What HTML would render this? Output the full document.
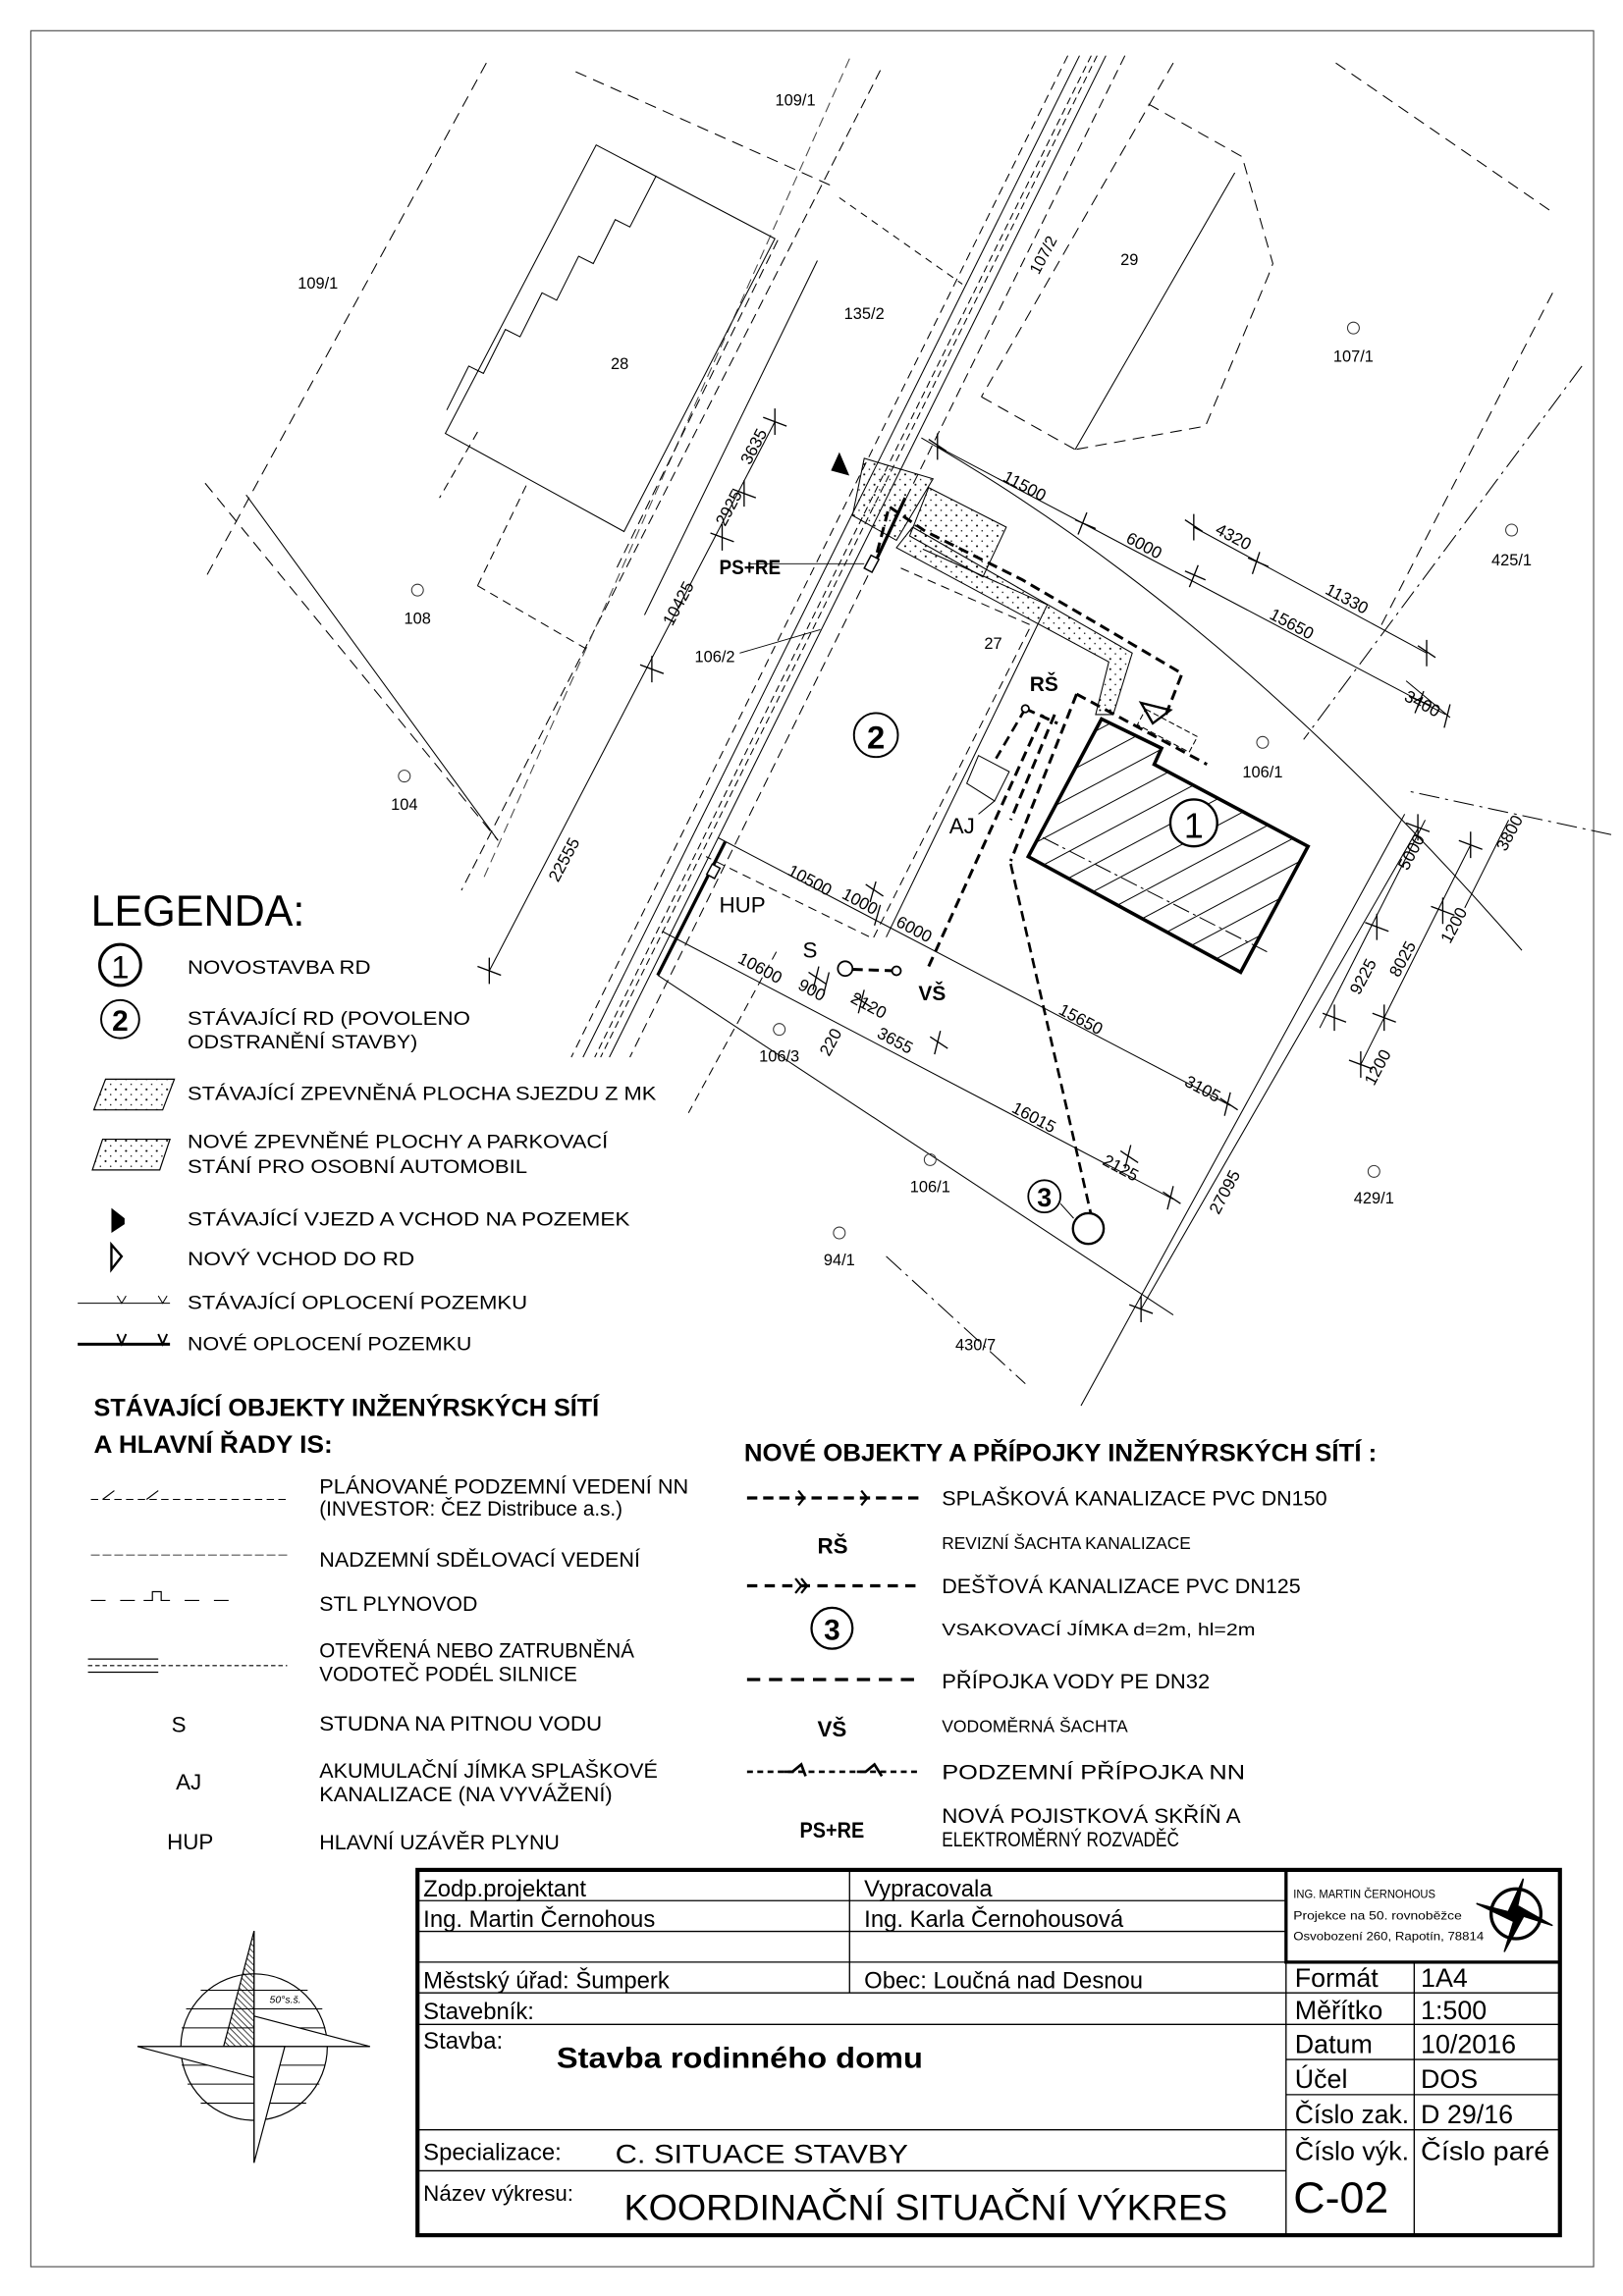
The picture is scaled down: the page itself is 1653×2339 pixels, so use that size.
<!DOCTYPE html>
<html><head><meta charset="utf-8">
<style>
html,body{margin:0;padding:0;background:#fff;}
svg{display:block;}
text{font-family:"Liberation Sans",sans-serif;fill:#000;}
.t{font-size:13px;}
.p{font-size:11px;fill:#222;}
.d{font-size:11.5px;}
.b{font-weight:bold;}
</style></head>
<body>
<svg width="1653" height="2339" viewBox="0 0 1108 1568" xmlns="http://www.w3.org/2000/svg">
<defs>
<pattern id="dots" width="7" height="7" patternUnits="userSpaceOnUse"><circle cx="2" cy="2" r="0.7" fill="#000"/><circle cx="5.5" cy="5.5" r="0.5" fill="#000"/></pattern>
<pattern id="hatch" width="16" height="16" patternUnits="userSpaceOnUse" patternTransform="rotate(-28)"><line x1="0" y1="8" x2="16" y2="8" stroke="#000" stroke-width="0.6"/></pattern>
<pattern id="hatch2" width="3" height="3" patternUnits="userSpaceOnUse" patternTransform="rotate(45)"><line x1="0" y1="1.5" x2="3" y2="1.5" stroke="#000" stroke-width="0.5"/></pattern>
</defs>
<rect x="0" y="0" width="1108" height="1568" fill="#fff"/>
<rect x="21" y="21" width="1067" height="1527" fill="none" stroke="#555" stroke-width="0.8"/>

<!-- ===== MAP ===== -->
<g fill="none" stroke="#000" stroke-width="0.7">
 <!-- road bundle -->
 <line x1="729" y1="38" x2="390" y2="722" stroke-dasharray="6 4"/>
 <line x1="737" y1="38" x2="398" y2="722"/>
 <line x1="745" y1="38" x2="406" y2="722" stroke-dasharray="5 3"/>
 <line x1="749" y1="38" x2="410" y2="722" stroke-dasharray="5 3"/>
 <line x1="755" y1="38" x2="416" y2="722"/>
 <line x1="768" y1="38" x2="430" y2="722" stroke-dasharray="7 4"/>
 <line x1="801" y1="43" x2="670" y2="271" stroke-dasharray="8 5"/>
 <!-- left NN line -->
 <line x1="601" y1="48" x2="315" y2="608" stroke-dasharray="7 4"/>
 <line x1="580" y1="40" x2="330" y2="600" stroke-dasharray="7 4" stroke="#444"/>
 <!-- parcel lines -->
 <line x1="332" y1="43" x2="140" y2="395" stroke-dasharray="8 5"/>
 <line x1="140" y1="330" x2="340" y2="574" stroke-dasharray="8 5" />
 <line x1="168" y1="338" x2="340" y2="574"/>
 <line x1="393" y1="49" x2="568" y2="127" stroke-dasharray="8 5"/>
 <line x1="573" y1="135" x2="657" y2="194" stroke-dasharray="5 4"/>
 <polygon points="407,99 529,163 426,363 304,296" />
 <polyline points="448,120 430,155 420,150 405,180 395,175 380,205 370,200 355,230 345,225 330,255 320,250 305,280" stroke-dasharray="none"/>
 <line x1="326" y1="295" x2="300" y2="340" stroke-dasharray="6 4"/>
 <line x1="326" y1="400" x2="400" y2="443" stroke-dasharray="6 4"/>
 <line x1="326" y1="400" x2="360" y2="330" stroke-dasharray="6 4"/>
 <line x1="531" y1="164" x2="420" y2="390" stroke-dasharray="7 4"/>
 <line x1="558" y1="178" x2="440" y2="420"/>
 <!-- parcel 29 -->
 <polyline points="784,71 848,107 869,180 866,188 823,291 734,307" stroke-dasharray="8 5"/>
 <line x1="734" y1="307" x2="843" y2="118"/>
 <line x1="670" y1="271" x2="734" y2="307" stroke-dasharray="8 5"/>
 <line x1="912" y1="43" x2="1060" y2="145" stroke-dasharray="8 5"/>
 <line x1="1060" y1="200" x2="943" y2="427" stroke-dasharray="8 5"/>
 <line x1="1080" y1="250" x2="890" y2="505" stroke-dasharray="14 4 2 4"/>
 <line x1="1100" y1="570" x2="960" y2="540" stroke-dasharray="14 4 2 4"/>
 <!-- plot boundaries -->
 <path d="M629,299 Q840,420 1039,649"/>
 <line x1="959" y1="556" x2="738" y2="960"/>
 <line x1="449" y1="666" x2="801" y2="898"/>
 <line x1="605" y1="858" x2="700" y2="945" stroke-dasharray="14 4 2 4"/>
 <line x1="530" y1="650" x2="470" y2="760" stroke-dasharray="6 4"/>
 <!-- old house 2 outline -->
 <polyline points="615,388 704,427 596,641 482,585" stroke-dasharray="6 4"/>
 <polyline points="630,375 715,413 605,640" />
 <!-- paving -->
 <polygon points="590,313 637,327 612,369 582,352" fill="url(#dots)"/>
 <polygon points="634,333 687,360 671,394 621,366" fill="url(#dots)"/>
 <polygon points="623,360 773,446 760,488 748,488 757,452 612,374" fill="url(#dots)"/>
 <!-- house 1 -->
 <polygon points="752,491 793,511 788,522 893,578 847,664 702,585" fill="url(#hatch)" stroke-width="2.4"/>
 <line x1="712" y1="572" x2="865" y2="650" stroke-dasharray="12 3 2 3"/>
 <rect x="777" y="493" width="40" height="12" transform="rotate(28 797 499)" stroke-dasharray="4 2"/>
 <!-- AJ -->
 <polygon points="668,516 689,527 679,547 660,535"/>
 <line x1="679" y1="547" x2="668" y2="556"/>
 <!-- new fence thick -->
 <line x1="495" y1="575" x2="449" y2="666" stroke-width="2.2"/>
 <line x1="597" y1="385" x2="618" y2="340" stroke-width="2.2"/>
 <!-- dimension lines -->
 <line x1="640" y1="305" x2="987" y2="488"/>
 <line x1="815" y1="360" x2="974" y2="446"/>
 <line x1="960" y1="465" x2="990" y2="490"/>
 <line x1="334" y1="663" x2="529" y2="288"/>
 <line x1="490" y1="572" x2="840" y2="755"/>
 <line x1="452" y1="636" x2="801" y2="819"/>
 <line x1="968" y1="566" x2="779" y2="894"/>
 <line x1="973" y1="560" x2="901" y2="702"/>
 <line x1="1004" y1="577" x2="929" y2="727"/>
 <line x1="1030" y1="560" x2="1000" y2="620"/>
 <!-- ticks -->
 <g stroke-width="0.9">
  <path d="M640,296 l0,18 M634,300 l12,8"/>
  <path d="M742,350 l-6,15 M734,355 l14,6"/>
  <path d="M818,386 l-6,15 M809,390 l14,6"/>
  <path d="M972,472 l-6,15 M963,476 l14,6"/>
  <path d="M815,351 l0,18 M809,355 l12,8"/>
  <path d="M860,377 l-5,15 M852,381 l14,6"/>
  <path d="M974,437 l0,18 M968,441 l12,8"/>
  <path d="M990,481 l-4,16"/>
  <path d="M334,654 l0,18 M326,660 l16,6"/>
  <path d="M445,448 l0,18 M437,454 l16,6"/>
  <path d="M493,358 l0,18 M485,364 l16,6"/>
  <path d="M508,328 l0,18 M500,334 l16,6"/>
  <path d="M529,279 l0,18 M521,285 l16,6"/>
  <path d="M598,602 l-4,14 M591,604 l12,8"/>
  <path d="M601,618 l-4,14"/>
  <path d="M840,746 l-4,16 M833,750 l12,8"/>
  <path d="M559,660 l-4,16 M552,664 l12,8"/>
  <path d="M566,664 l-4,16"/>
  <path d="M590,676 l-4,16 M583,680 l12,8"/>
  <path d="M642,704 l-4,16 M635,708 l12,8"/>
  <path d="M772,782 l-4,16 M765,786 l12,8"/>
  <path d="M801,810 l-4,16 M794,814 l12,8"/>
  <path d="M779,885 l0,18 M771,891 l16,6"/>
  <path d="M911,686 l0,18 M903,692 l16,6"/>
  <path d="M940,624 l0,18 M932,630 l16,6"/>
  <path d="M968,556 l0,18 M960,562 l16,6"/>
  <path d="M929,718 l0,18 M921,724 l16,6"/>
  <path d="M945,686 l0,18 M937,692 l16,6"/>
  <path d="M985,613 l0,18 M977,619 l16,6"/>
  <path d="M1004,568 l0,18 M996,574 l16,6"/>
 </g>
</g>

<!-- routes -->
<g fill="none" stroke="#000" stroke-width="2" stroke-dasharray="7 4">
 <polyline points="596,388 607,346 632,363 698,396 751,427 807,460 796,488"/>
 <polyline points="735,474 824,522"/>
 <polyline points="735,474 690,588"/>
 <polyline points="720,488 690,560"/>
 <polyline points="634,660 712,488"/>
 <polyline points="690,590 745,830" stroke-width="1.8"/>
 <polyline points="700,484 680,518" stroke-width="1.8"/>
 <polyline points="700,484 722,494"/>
 <line x1="582" y1="662" x2="612" y2="663"/>
</g>
<g fill="#000" stroke="#000" stroke-width="1">
 <polygon points="573,310 579,324 568,321"/>
 <polygon points="779,480 799,485 787,494" fill="none" stroke-width="1.6"/>
 <rect x="592" y="380" width="6" height="10" transform="rotate(28 595 385)" fill="#fff"/>
 <rect x="484" y="591" width="6" height="8" transform="rotate(28 487 595)" fill="#fff"/>
</g>
<g fill="#fff" stroke="#000" stroke-width="1.2">
 <circle cx="577" cy="661.5" r="5"/>
 <circle cx="612" cy="663" r="3"/>
 <circle cx="700" cy="484" r="2.5"/>
 <circle cx="743" cy="839" r="10.5" stroke-width="1.6"/>
 <circle cx="815" cy="562" r="16" stroke-width="1.6"/>
 <circle cx="598" cy="502" r="15" stroke-width="1.3"/>
 <circle cx="713" cy="817" r="11" stroke-width="1.2"/>
</g>
<line x1="724" y1="822" x2="733" y2="832" stroke="#000" stroke-width="0.7"/>
<line x1="512" y1="385" x2="590" y2="385" stroke="#000" stroke-width="0.6"/>
<line x1="505" y1="446" x2="560" y2="430" stroke="#000" stroke-width="0.6"/>
<text x="815" y="572" font-size="24" text-anchor="middle">1</text>
<text x="598" y="511" font-size="22" text-anchor="middle" class="b">2</text>
<text x="713" y="824" font-size="18" text-anchor="middle" class="b">3</text>

<!-- map labels -->
<g class="b" font-size="14">
 <text x="491" y="392" font-size="14" font-weight="bold" textLength="42" lengthAdjust="spacingAndGlyphs">PS+RE</text>
 <text x="703" y="472" font-size="14" font-weight="bold">RŠ</text>
 <text x="627" y="683" font-size="14" font-weight="bold">VŠ</text>
</g>
<text x="491" y="623" font-size="15">HUP</text>
<text x="548" y="654" font-size="15">S</text>
<text x="648" y="569" font-size="15">AJ</text>
<g class="p" text-anchor="middle">
 <text x="543" y="72">109/1</text>
 <text x="217" y="197">109/1</text>
 <text x="590" y="218">135/2</text>
 <text x="771" y="181">29</text>
 <text x="423" y="252">28</text>
 <text x="924" y="247">107/1</text>
 <text x="285" y="426">108</text>
 <text x="678" y="443">27</text>
 <text x="488" y="452">106/2</text>
 <text x="1032" y="386">425/1</text>
 <text x="862" y="531">106/1</text>
 <text x="276" y="553">104</text>
 <text x="532" y="725">106/3</text>
 <text x="635" y="814">106/1</text>
 <text x="573" y="864">94/1</text>
 <text x="938" y="822">429/1</text>
 <text x="666" y="922">430/7</text>
 <text x="712" y="178" transform="rotate(-62 712 174)">107/2</text>
</g>
<g fill="none" stroke="#333" stroke-width="0.7">
 <circle cx="924" cy="224" r="4"/><circle cx="285" cy="403" r="4"/><circle cx="1032" cy="362" r="4"/><circle cx="862" cy="507" r="4"/><circle cx="276" cy="530" r="4"/><circle cx="532" cy="703" r="4"/><circle cx="635" cy="792" r="4"/><circle cx="573" cy="842" r="4"/><circle cx="938" cy="800" r="4"/>
</g>
<g class="d">
 <text transform="translate(684,328) rotate(28)">11500</text>
 <text transform="translate(768,370) rotate(28)">6000</text>
 <text transform="translate(866,422) rotate(28)">15650</text>
 <text transform="translate(829,364) rotate(28)">4320</text>
 <text transform="translate(904,405) rotate(28)">11330</text>
 <text transform="translate(958,478) rotate(28)">3400</text>
 <text transform="translate(381,603) rotate(-62)">22555</text>
 <text transform="translate(459,428) rotate(-62)">10425</text>
 <text transform="translate(495,360) rotate(-62)">2925</text>
 <text transform="translate(512,318) rotate(-62)">3635</text>
 <text transform="translate(537,597) rotate(28)">10500</text>
 <text transform="translate(574,613) rotate(28)">1000</text>
 <text transform="translate(611,632) rotate(28)">6000</text>
 <text transform="translate(722,692) rotate(28)">15650</text>
 <text transform="translate(808,741) rotate(28)">3105</text>
 <text transform="translate(503,657) rotate(28)">10600</text>
 <text transform="translate(544,675) rotate(28)">900</text>
 <text transform="translate(580,684) rotate(28)">2120</text>
 <text transform="translate(566,722) rotate(-62)">220</text>
 <text transform="translate(598,708) rotate(28)">3655</text>
 <text transform="translate(690,759) rotate(28)">16015</text>
 <text transform="translate(752,795) rotate(28)">2125</text>
 <text transform="translate(832,830) rotate(-62)">27095</text>
 <text transform="translate(961,595) rotate(-62)">5000</text>
 <text transform="translate(928,680) rotate(-62)">9225</text>
 <text transform="translate(955,668) rotate(-62)">8025</text>
 <text transform="translate(990,645) rotate(-62)">1200</text>
 <text transform="translate(938,742) rotate(-62)">1200</text>
 <text transform="translate(1028,582) rotate(-62)">3800</text>
</g>

<!-- ===== LEGEND ===== -->
<text x="62" y="632" font-size="30" textLength="146" lengthAdjust="spacingAndGlyphs">LEGENDA:</text>
<circle cx="82" cy="659" r="14" fill="none" stroke="#000" stroke-width="2"/>
<text x="82" y="668" font-size="22" text-anchor="middle">1</text>
<circle cx="82" cy="696" r="13" fill="none" stroke="#000" stroke-width="1.3"/>
<text x="82" y="704" font-size="20" text-anchor="middle" class="b">2</text>
<g class="t" font-size="14">
 <text x="128" y="665" textLength="125" lengthAdjust="spacingAndGlyphs">NOVOSTAVBA RD</text>
 <text x="128" y="700" textLength="193" lengthAdjust="spacingAndGlyphs">STÁVAJÍCÍ RD (POVOLENO</text>
 <text x="128" y="716" textLength="157" lengthAdjust="spacingAndGlyphs">ODSTRANĚNÍ STAVBY)</text>
 <text x="128" y="751" textLength="320" lengthAdjust="spacingAndGlyphs">STÁVAJÍCÍ ZPEVNĚNÁ PLOCHA SJEZDU Z MK</text>
 <text x="128" y="784" textLength="287" lengthAdjust="spacingAndGlyphs">NOVÉ ZPEVNĚNÉ PLOCHY A PARKOVACÍ</text>
 <text x="128" y="801" textLength="232" lengthAdjust="spacingAndGlyphs">STÁNÍ PRO OSOBNÍ AUTOMOBIL</text>
 <text x="128" y="837" textLength="302" lengthAdjust="spacingAndGlyphs">STÁVAJÍCÍ VJEZD A VCHOD NA POZEMEK</text>
 <text x="128" y="864" textLength="155" lengthAdjust="spacingAndGlyphs">NOVÝ VCHOD DO RD</text>
 <text x="128" y="894" textLength="232" lengthAdjust="spacingAndGlyphs">STÁVAJÍCÍ OPLOCENÍ POZEMKU</text>
 <text x="128" y="922" textLength="194" lengthAdjust="spacingAndGlyphs">NOVÉ OPLOCENÍ POZEMKU</text>
</g>
<polygon points="64,758 72,737 119,737 111,758" fill="url(#dots)" stroke="#000" stroke-width="0.8"/>
<polygon points="63,799 70,778 116,778 109,799" fill="url(#dots)" stroke="#000" stroke-width="0.8"/>
<polygon points="76,825 85,832 85,836 76,842" fill="#000"/>
<polygon points="76,850 83,858 76,867" fill="none" stroke="#000" stroke-width="1.6"/>
<line x1="53" y1="890" x2="116" y2="890" stroke="#000" stroke-width="0.7"/>
<path d="M80,885 l3,5 3,-5 M108,885 l3,5 3,-5" stroke="#000" stroke-width="0.7" fill="none"/>
<line x1="53" y1="918" x2="116" y2="918" stroke="#000" stroke-width="2"/>
<path d="M80,911 l3,7 3,-7 M108,911 l3,7 3,-7" stroke="#000" stroke-width="1.3" fill="none"/>

<text x="64" y="967" font-size="17" font-weight="bold" textLength="345" lengthAdjust="spacingAndGlyphs">STÁVAJÍCÍ OBJEKTY INŽENÝRSKÝCH SÍTÍ</text>
<text x="64" y="992" font-size="17" font-weight="bold" textLength="163" lengthAdjust="spacingAndGlyphs">A HLAVNÍ ŘADY IS:</text>
<text x="508" y="998" font-size="17" font-weight="bold" textLength="432" lengthAdjust="spacingAndGlyphs">NOVÉ  OBJEKTY A PŘÍPOJKY INŽENÝRSKÝCH SÍTÍ :</text>

<g font-size="14">
 <text x="218" y="1020" textLength="252" lengthAdjust="spacingAndGlyphs">PLÁNOVANÉ PODZEMNÍ VEDENÍ NN</text>
 <text x="218" y="1035" textLength="207" lengthAdjust="spacingAndGlyphs">(INVESTOR: ČEZ Distribuce a.s.)</text>
 <text x="218" y="1070" textLength="219" lengthAdjust="spacingAndGlyphs">NADZEMNÍ SDĚLOVACÍ VEDENÍ</text>
 <text x="218" y="1100" textLength="108" lengthAdjust="spacingAndGlyphs">STL PLYNOVOD</text>
 <text x="218" y="1132" textLength="215" lengthAdjust="spacingAndGlyphs">OTEVŘENÁ NEBO ZATRUBNĚNÁ</text>
 <text x="218" y="1148" textLength="176" lengthAdjust="spacingAndGlyphs">VODOTEČ PODÉL SILNICE</text>
 <text x="218" y="1182" textLength="193" lengthAdjust="spacingAndGlyphs">STUDNA NA PITNOU VODU</text>
 <text x="218" y="1214" textLength="231" lengthAdjust="spacingAndGlyphs">AKUMULAČNÍ JÍMKA SPLAŠKOVÉ</text>
 <text x="218" y="1230" textLength="200" lengthAdjust="spacingAndGlyphs">KANALIZACE (NA VYVÁŽENÍ)</text>
 <text x="218" y="1263" textLength="164" lengthAdjust="spacingAndGlyphs">HLAVNÍ UZÁVĚR PLYNU</text>
 <text x="117" y="1183" font-size="15">S</text>
 <text x="120" y="1222" font-size="15">AJ</text>
 <text x="114" y="1263" font-size="15">HUP</text>
 <text x="643" y="1028" textLength="263" lengthAdjust="spacingAndGlyphs">SPLAŠKOVÁ KANALIZACE PVC DN150</text>
 <text x="643" y="1058" font-size="12" textLength="170" lengthAdjust="spacingAndGlyphs">REVIZNÍ ŠACHTA KANALIZACE</text>
 <text x="643" y="1088" textLength="245" lengthAdjust="spacingAndGlyphs">DEŠŤOVÁ KANALIZACE PVC DN125</text>
 <text x="643" y="1117" font-size="12" textLength="214" lengthAdjust="spacingAndGlyphs">VSAKOVACÍ JÍMKA d=2m, hl=2m</text>
 <text x="643" y="1153" textLength="183" lengthAdjust="spacingAndGlyphs">PŘÍPOJKA VODY PE DN32</text>
 <text x="643" y="1183" font-size="12" textLength="127" lengthAdjust="spacingAndGlyphs">VODOMĚRNÁ ŠACHTA</text>
 <text x="643" y="1215" textLength="207" lengthAdjust="spacingAndGlyphs">PODZEMNÍ PŘÍPOJKA NN</text>
 <text x="643" y="1245" textLength="204" lengthAdjust="spacingAndGlyphs">NOVÁ POJISTKOVÁ SKŘÍŇ A</text>
 <text x="643" y="1261" textLength="162" lengthAdjust="spacingAndGlyphs">ELEKTROMĚRNÝ ROZVADĚČ</text>
 <text x="558" y="1061" font-size="15" font-weight="bold">RŠ</text>
 <text x="558" y="1186" font-size="15" font-weight="bold">VŠ</text>
 <text x="546" y="1255" font-size="15" font-weight="bold" textLength="44" lengthAdjust="spacingAndGlyphs">PS+RE</text>
</g>
<circle cx="568" cy="1112" r="14" fill="none" stroke="#000" stroke-width="1.5"/>
<text x="568" y="1120" font-size="20" text-anchor="middle" font-weight="bold">3</text>
<g stroke="#000" fill="none">
 <line x1="62" y1="1024" x2="196" y2="1024" stroke-width="0.7" stroke-dasharray="5 3"/>
 <path d="M70,1024 l8,-6 M100,1024 l8,-6" stroke-width="0.8"/>
 <line x1="62" y1="1062" x2="196" y2="1062" stroke-width="0.7" stroke-dasharray="6 2" stroke="#555"/>
 <path d="M62,1093 h10 m10,0 h10 m6,0 h6 v-6 h6 v6 h6 m10,0 h10 m10,0 h10" stroke-width="0.8"/>
 <line x1="60" y1="1133" x2="108" y2="1133" stroke-width="0.8"/>
 <line x1="60" y1="1142" x2="108" y2="1142" stroke-width="0.8"/>
 <line x1="60" y1="1137.5" x2="196" y2="1137.5" stroke-width="0.7" stroke-dasharray="3 2"/>
 <line x1="510" y1="1023" x2="628" y2="1023" stroke-width="2.2" stroke-dasharray="7 4"/>
 <path d="M545,1018 l4,5 -4,5 M588,1018 l4,5 -4,5" stroke-width="1.5"/>
 <line x1="510" y1="1083" x2="628" y2="1083" stroke-width="2.2" stroke-dasharray="7 5"/>
 <path d="M543,1078 l4,5 -4,5 M547,1078 l4,5 -4,5" stroke-width="1.5"/>
 <line x1="510" y1="1147" x2="628" y2="1147" stroke-width="2.2" stroke-dasharray="9 6"/>
 <line x1="510" y1="1210" x2="628" y2="1210" stroke-width="1.8" stroke-dasharray="4 3"/>
 <path d="M535,1210 h6 l6,-5 3,8 M585,1210 h6 l6,-5 5,8" stroke-width="1.8"/>
</g>

<!-- ===== COMPASS ===== -->
<g stroke="#000" stroke-width="0.8" fill="none">
 <ellipse cx="173.4" cy="1398" rx="50" ry="50"/>
 <g stroke-width="0.7">
  <line x1="137" y1="1359.2" x2="210" y2="1359.2"/>
  <line x1="127" y1="1371.9" x2="220" y2="1371.9"/>
  <line x1="124" y1="1384.9" x2="222" y2="1384.9"/>
  <line x1="124" y1="1410.4" x2="222" y2="1410.4"/>
  <line x1="128" y1="1423.3" x2="218" y2="1423.3"/>
  <line x1="137" y1="1436.3" x2="209" y2="1436.3"/>
 </g>
 <polygon points="173.4,1318.7 173.4,1397.6 152.6,1397.6" fill="url(#hatch2)"/>
 <polygon points="173.4,1376.8 252.5,1397.6 173.4,1397.6" fill="#fff"/>
 <polygon points="93.8,1397.6 173.4,1418.8 173.4,1397.6" fill="#fff"/>
 <polygon points="173.4,1477 194.4,1397.6 173.4,1397.6" fill="#fff"/>
 <line x1="93.8" y1="1397.6" x2="252.5" y2="1397.6"/>
 <line x1="173.4" y1="1318.7" x2="173.4" y2="1477"/>
</g>
<text x="184" y="1368" font-size="7" font-style="italic" fill="#333">50°s.š.</text>

<!-- ===== TITLE BLOCK ===== -->
<g stroke="#000" fill="none">
 <rect x="285" y="1277" width="780" height="249.5" stroke-width="2.8"/>
 <rect x="878" y="1277" width="187" height="63" stroke-width="2.2"/>
 <g stroke-width="0.9">
  <line x1="285" y1="1298" x2="878" y2="1298"/>
  <line x1="285" y1="1319" x2="878" y2="1319"/>
  <line x1="580" y1="1277" x2="580" y2="1361"/>
  <line x1="285" y1="1340" x2="1065" y2="1340"/>
  <line x1="285" y1="1361" x2="1065" y2="1361"/>
  <line x1="285" y1="1382.5" x2="1065" y2="1382.5"/>
  <line x1="878" y1="1406.5" x2="1065" y2="1406.5"/>
  <line x1="878" y1="1430.5" x2="1065" y2="1430.5"/>
  <line x1="285" y1="1454.5" x2="1065" y2="1454.5"/>
  <line x1="285" y1="1482.5" x2="878" y2="1482.5"/>
  <line x1="878" y1="1340" x2="878" y2="1526"/>
  <line x1="965.5" y1="1340" x2="965.5" y2="1526"/>
 </g>
</g>
<g font-size="16">
 <text x="289" y="1295">Zodp.projektant</text>
 <text x="289" y="1316">Ing. Martin Černohous</text>
 <text x="590" y="1295">Vypracovala</text>
 <text x="590" y="1316">Ing. Karla Černohousová</text>
 <text x="289" y="1358">Městský úřad:  Šumperk</text>
 <text x="590" y="1358">Obec: Loučná nad Desnou</text>
 <text x="289" y="1379">Stavebník:</text>
 <text x="289" y="1399">Stavba:</text>
 <text x="380" y="1412" font-size="20" font-weight="bold" textLength="250" lengthAdjust="spacingAndGlyphs">Stavba rodinného domu</text>
 <text x="289" y="1475">Specializace:</text>
 <text x="420" y="1477" font-size="18" textLength="200" lengthAdjust="spacingAndGlyphs">C. SITUACE STAVBY</text>
 <text x="289" y="1503" font-size="15">Název výkresu:</text>
 <text x="426" y="1516" font-size="25" textLength="412" lengthAdjust="spacingAndGlyphs">KOORDINAČNÍ SITUAČNÍ VÝKRES</text>
 <text x="884" y="1357" font-size="18">Formát</text>
 <text x="970" y="1357" font-size="18">1A4</text>
 <text x="884" y="1379" font-size="18">Měřítko</text>
 <text x="970" y="1379" font-size="18">1:500</text>
 <text x="884" y="1402" font-size="18">Datum</text>
 <text x="970" y="1402" font-size="18">10/2016</text>
 <text x="884" y="1426" font-size="18">Účel</text>
 <text x="970" y="1426" font-size="18">DOS</text>
 <text x="884" y="1450" font-size="18" textLength="78" lengthAdjust="spacingAndGlyphs">Číslo zak.</text>
 <text x="970" y="1450" font-size="18">D 29/16</text>
 <text x="884" y="1475" font-size="18" textLength="78" lengthAdjust="spacingAndGlyphs">Číslo výk.</text>
 <text x="970" y="1475" font-size="18" textLength="88" lengthAdjust="spacingAndGlyphs">Číslo paré</text>
 <text x="883" y="1511" font-size="30">C-02</text>
</g>
<g font-size="8">
 <text x="883" y="1296" textLength="97" lengthAdjust="spacingAndGlyphs">ING. MARTIN ČERNOHOUS</text>
 <text x="883" y="1311" textLength="115" lengthAdjust="spacingAndGlyphs">Projekce na 50. rovnoběžce</text>
 <text x="883" y="1325" textLength="130" lengthAdjust="spacingAndGlyphs">Osvobození 260, Rapotín, 78814</text>
</g>
<g stroke="#000" fill="none">
 <circle cx="1035" cy="1307" r="17" stroke-width="2.2"/>
 <polygon points="1040,1283 1035,1307 1030,1305" fill="#000"/>
 <polygon points="1060,1315 1035,1307 1037,1302" fill="#000"/>
 <polygon points="1027,1333 1035,1307 1040,1309" fill="#000"/>
 <polygon points="1008,1300 1035,1307 1033,1312" fill="#000"/>
</g>
</svg>
</body></html>
